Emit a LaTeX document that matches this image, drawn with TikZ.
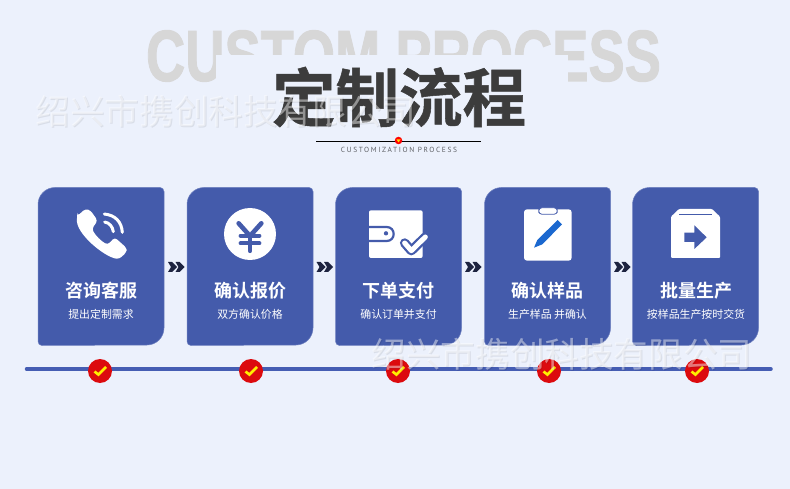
\documentclass[tikz,border=0pt]{standalone}
\usepackage{fontspec}
\setmainfont{Liberation Sans}
\newfontfamily\cjk[BoldFont={Noto Sans CJK SC Bold}]{Noto Sans CJK SC}
\newfontfamily\cjkb[FakeBold=0.8]{Noto Sans CJK SC Bold}
\newfontfamily\ghostf[BoldFeatures={FakeBold=1.5}]{Liberation Sans}
\newfontfamily\capf{PT Sans}
\usetikzlibrary{calc}
\definecolor{bgc}{HTML}{ECF1FC}
\definecolor{boxc}{HTML}{445BAB}
\definecolor{linec}{HTML}{455DB3}
\definecolor{ghost}{HTML}{D7D7D7}
\definecolor{titlec}{HTML}{3C3C3C}
\definecolor{chev}{HTML}{1E2440}
\definecolor{redc}{HTML}{DC0A0E}
\definecolor{yelc}{HTML}{FFEE00}
\definecolor{penc}{HTML}{1B68CF}
\tikzset{
  x=1pt,y=-1pt,
  card/.style={fill=boxc,draw=boxc!75!bgc,line width=.5pt},
  head/.style={font=\cjk\bfseries\fontsize{18}{20}\selectfont,text=white,inner sep=0pt},
  sub/.style={font=\cjk\fontsize{10.9}{12}\selectfont,text=white,inner sep=0pt},
  wm/.style={font=\cjk\fontsize{34.6}{36}\selectfont,text=white,opacity=.45,inner sep=0pt},
  wmshade/.style={font=\cjk\fontsize{34.6}{36}\selectfont,text=black,opacity=.08,inner sep=0pt},
  chevron/.style={fill=chev,draw=none},
  tick/.style={circle,fill=redc,minimum size=24pt,inner sep=0pt},
  icon/.style={fill=white,draw=none}
}
\newcommand{\card}[1]{%
  \draw[card] (#1+17,187.5) -- (#1+122,187.5) arc[start angle=-90,end angle=0,radius=4]
   -- (#1+126,328) arc[start angle=0,end angle=90,radius=17]
   -- (#1+4,345.5) arc[start angle=90,end angle=180,radius=4]
   -- (#1,204.5) arc[start angle=180,end angle=270,radius=17] -- cycle;}
\newcommand{\dchev}[1]{%
  \fill[chevron] (#1,262) -- (#1+4.2,262) -- (#1+9,267) -- (#1+4.2,272) -- (#1,272) -- (#1+3,267) -- cycle;
  \fill[chevron] (#1+7.5,262) -- (#1+11.7,262) -- (#1+16.5,267) -- (#1+11.7,272) -- (#1+7.5,272) -- (#1+10.5,267) -- cycle;}
\newcommand{\ticky}[2]{%
  \node[tick] (#2) at (#1,371) {};
  \draw[yelc,line width=2.6pt] ($(#2)+(-5.5,0.5)$) -- ($(#2)+(-1.6,3.6)$) -- ($(#2)+(6,-4)$);}
\begin{document}
\begin{tikzpicture}
\useasboundingbox (0,0) rectangle (790,489);
\fill[bgc] (0,0) rectangle (790,489);
% ghost headline, masked behind the title
\node[inner sep=0pt,text=ghost] (ghosttext) at (403.5,56)
  {\scalebox{.749}[1]{\fontsize{72.5}{74}\selectfont\ghostf\bfseries CUSTOM PROCESS}};
\fill[bgc] (216,55) rectangle (567.5,130);
% title
\node[inner sep=0pt,text=titlec] (title) at (399,97)
  {\cjkb\fontsize{63.5}{65}\selectfont 定制流程};
% first watermark
\node[wmshade] (wa) at (227,112) {绍兴市携创科技有限公司};
\node[wm] (wa2) at (226,111) {绍兴市携创科技有限公司};
\coordinate (rl) at (316,141.5);
\coordinate (rr) at (481,141.5);
\draw[black,line width=.9pt] (rl) -- (rr);
\node[circle,fill=red,minimum size=7.5pt,inner sep=0pt] (rd) at (398.5,140.5) {};
\fill[yelc!80!orange] (396.5,139.5) -- (400.5,139.5) -- (398.5,142.5) -- cycle;
\node[inner sep=0pt,text=black!60!bgc] (subtitle) at (399,150)
  {\capf\fontsize{7.4}{8}\selectfont\addfontfeature{LetterSpace=22}CUSTOMIZATION PROCESS};
% cards
\card{38}\card{187}\card{335.5}\card{484.5}\card{632.5}
\node[head] (h1) at (101,291) {咨询客服};
\node[sub] (s1) at (101,314.5) {提出定制需求};
\node[head] (h2) at (250,291) {确认报价};
\node[sub] (s2) at (250,314.5) {双方确认价格};
\node[head] (h3) at (398.5,291) {下单支付};
\node[sub] (s3) at (398.5,314.5) {确认订单并支付};
\node[head] (h4) at (547.5,291) {确认样品};
\node[sub] (s4) at (547.5,314.5) {生产样品 并确认};
\node[head] (h5) at (696,291) {批量生产};
\node[sub] (s5) at (696,314.5) {按样品生产按时交货};
% chevrons
\dchev{168}\dchev{316.5}\dchev{465}\dchev{614}
% phone
\begin{scope}[shift={(20,180)},scale=1/3]
\fill[icon,rounded corners=3pt] (172,108) -- (197,86) -- (212,92) -- (233,122) -- (216,146)
  .. controls (225,165) and (245,185) .. (264,194) -- (284,172) -- (320,204) -- (320,216) -- (298,237)
  .. controls (255,232) and (165,160) .. (172,108) -- cycle;
\draw[white,line width=3pt,line cap=round] (253,102) .. controls (285,105) and (305,125) .. (307,157);
\draw[white,line width=3pt,line cap=round] (254,126) .. controls (268,128) and (278,140) .. (280,155);
\end{scope}
% yen
\begin{scope}[shift={(20,180)},scale=1/3]
\fill[icon] (690,162) circle[radius=78];
\draw[boxc,line width=4.6pt,line cap=round,line join=round] (656,130) -- (690,168) -- (724,130);
\draw[boxc,line width=4.2pt,line cap=round] (662,167) -- (718,167) (662,190) -- (718,190) (690,168) -- (690,213);
\end{scope}
% wallet
\begin{scope}[shift={(320,180)},scale=1/3]
\fill[icon,rounded corners=2pt] (147,91) rectangle (308,234);
\draw[boxc,line width=2.2pt] (147,141) -- (200,141) .. controls (228,141) and (228,183) .. (200,183) -- (147,183);
\fill[boxc] (198,160) circle[radius=6.5];
\draw[boxc,line width=9.5pt,line cap=round,line join=round] (254,189) -- (274,212) -- (316,171);
\draw[white,line width=5pt,line cap=round,line join=round] (254,189) -- (274,212) -- (316,171);
\end{scope}
% clipboard
\begin{scope}[shift={(320,180)},scale=1/3]
\fill[icon,rounded corners=3pt] (612,88) rectangle (755,242);
\draw[boxc,line width=.8pt,fill=white,rounded corners=3.4pt] (656,83) rectangle (712,103);
\fill[penc] (642,203) -- (652,180) -- (713,120) -- (726,133) -- (667,193) -- cycle;
\end{scope}
% box
\begin{scope}[shift={(600,180)},scale=1/3]
\fill[icon,rounded corners=1pt] (213,110) -- (237,87) -- (336,87) -- (360,110) -- (360,234) -- (213,234) -- cycle;
\draw[boxc,line width=1.4pt] (237,103) -- (336,103);
\fill[boxc] (253,158) -- (283,158) -- (283,136) -- (320,172) -- (283,207) -- (283,186) -- (253,186) -- cycle;
\end{scope}
% timeline
\coordinate (ta) at (26.5,369);
\coordinate (tb) at (771,369);
\draw[linec,line width=3.5pt,line cap=round] (ta) -- (tb);
\ticky{100}{t1}\ticky{251}{t2}\ticky{398}{t3}\ticky{549}{t4}\ticky{697}{t5}
% second watermark
\node[wmshade] (wb) at (563,355.5) {绍兴市携创科技有限公司};
\node[wm] (wb2) at (562,354.5) {绍兴市携创科技有限公司};
\end{tikzpicture}
\end{document}
